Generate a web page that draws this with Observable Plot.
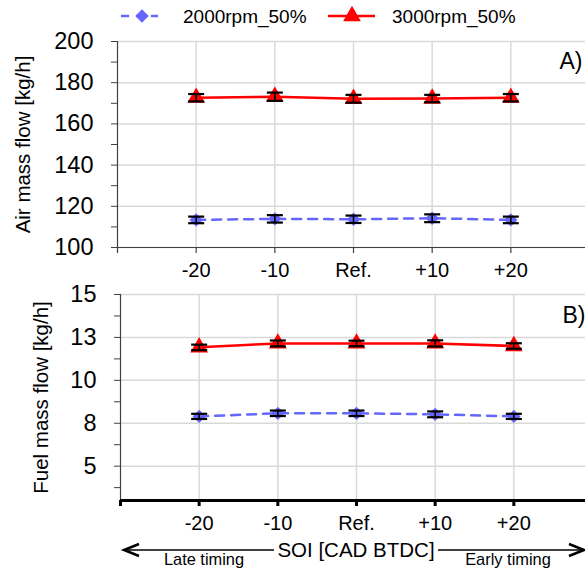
<!DOCTYPE html>
<html><head><meta charset="utf-8">
<script src="https://cdn.jsdelivr.net/npm/d3@7"></script>
<script src="https://cdn.jsdelivr.net/npm/@observablehq/plot@0.6"></script>
<style>
body{margin:0;background:#fff;}
#root{position:relative;width:585px;height:571px;overflow:hidden;font-family:"Liberation Sans",Arial,sans-serif;background:#fff;}
#root > *{position:absolute;left:0;}
</style></head><body><div id="root"></div>
<script>
// ---- data ----
const soiLabels = ["-20", "-10", "Ref.", "+10", "+20"];
const soiPos = [-20, -10, 0, 10, 20];
const seriesNames = ["2000rpm_50%", "3000rpm_50%"];
const air2000 = [113.4, 113.9, 113.7, 114.2, 113.4];
const air3000 = [172.7, 173.2, 172.2, 172.3, 172.7];
const air2000Err = [1.6, 1.8, 1.8, 1.9, 1.6];
const air3000Err = [1.8, 2.0, 1.9, 1.8, 1.8];
const fuel2000 = [7.9, 8.08, 8.08, 8.02, 7.9];
const fuel3000 = [11.92, 12.15, 12.15, 12.15, 12.0];
const fuel2000Err = [0.15, 0.16, 0.16, 0.17, 0.15];
const fuel3000Err = [0.16, 0.17, 0.16, 0.18, 0.16];
const airTicks = [100, 120, 140, 160, 180, 200];
const airMinor = [110, 130, 150, 170, 190];
const fuelTicks = [5, 7.5, 10, 12.5, 15];
const fuelMinor = [3.75, 6.25, 8.75, 11.25, 13.75];
const xDomain = [-30, 30];

const BLUE = "#6666ff", RED = "#ff0000";
const FONT = '"Liberation Sans", Arial, sans-serif';
const labelOf = new Map(soiPos.map((p, i) => [p, soiLabels[i]]));
const xTickPos = [xDomain[0], ...soiPos];

const capSymbol = {draw(ctx) { ctx.moveTo(-8, 0); ctx.lineTo(8, 0); }};

function rows(vals, errs) {
  return soiPos.map((p, i) => ({soi: p, v: vals[i], lo: vals[i] - errs[i], hi: vals[i] + errs[i]}));
}

function panel(o) {
  const r2000 = rows(o.v2000, o.e2000), r3000 = rows(o.v3000, o.e3000);
  const all = r2000.concat(r3000);
  return Plot.plot({
    width: 585, height: o.height,
    marginLeft: o.left, marginRight: 0, marginTop: o.marginTop, marginBottom: o.marginBottom,
    x: {type: "linear", domain: xDomain, range: [o.left, o.right]},
    y: {domain: o.domain},
    style: {fontFamily: FONT, background: "transparent", color: "black"},
    marks: [
      Plot.gridY(o.ticks, {stroke: "#d9d9d9", strokeOpacity: 1, strokeWidth: 1.5}),
      Plot.gridX(soiPos, {stroke: "#d9d9d9", strokeOpacity: 1, strokeWidth: 1.5}),
      Plot.ruleX([xDomain[0]], {stroke: "#404040", strokeWidth: 1.2}),
      Plot.ruleY([o.domain[0]], {stroke: o.xAxisColor, strokeWidth: o.xAxisWidth}),
      Plot.line(r2000, {x: "soi", y: "v", stroke: BLUE, strokeWidth: 2.5, strokeDasharray: "9,7"}),
      Plot.line(r3000, {x: "soi", y: "v", stroke: RED, strokeWidth: 2.5}),
      Plot.dot(r2000, {x: "soi", y: "v", symbol: "diamond2", r: 6, fill: BLUE}),
      Plot.dot(r3000, {x: "soi", y: "v", symbol: "triangle", r: 6.6, fill: RED}),
      Plot.ruleX(all, {x: "soi", y1: "lo", y2: "hi", stroke: "black", strokeWidth: 1.6}),
      Plot.dot(all, {x: "soi", y: "lo", symbol: capSymbol, fill: "none", stroke: "black", strokeWidth: 2.2}),
      Plot.dot(all, {x: "soi", y: "hi", symbol: capSymbol, fill: "none", stroke: "black", strokeWidth: 2.2}),
      Plot.axisY(o.ticks, {tickSize: 6, tickPadding: 18, fontSize: 23.5, tickFormat: o.fmt, label: null, stroke: "#404040"}),
      Plot.axisY(o.minor, {tickSize: 6, text: null, label: null, stroke: "#404040"}),
      Plot.axisX(xTickPos, {tickSize: 6, tickPadding: 9, fontSize: 20, tickFormat: d => labelOf.get(d) ?? "", label: null, stroke: o.xAxisColor, strokeWidth: o.xAxisWidth}),
      Plot.text([o.label], {frameAnchor: "left", textAnchor: "middle", lineAnchor: "middle", rotate: -90, dx: o.labelDx, fontSize: 20.5, fill: "black"}),
      Plot.text([o.tag], {frameAnchor: "top-right", dx: o.tagDx, dy: o.tagDy, fontSize: 23, fill: "black"})
    ]
  });
}

const root = document.getElementById("root");

// legend
const leg = d3.create("svg").attr("width", 585).attr("height", 30).style("top", "0px")
  .attr("font-family", FONT);
leg.append("line").attr("x1", 121).attr("x2", 158).attr("y1", 16).attr("y2", 16)
  .attr("stroke", BLUE).attr("stroke-width", 2.5).attr("stroke-dasharray", "8,7");
leg.append("path").attr("d", d3.symbol(d3.symbolDiamond2, Math.PI * 6 * 6)())
  .attr("transform", "translate(142,16)").attr("fill", BLUE);
leg.append("text").attr("x", 183).attr("y", 16).attr("dy", "0.36em").attr("font-size", 19).text(seriesNames[0]);
leg.append("line").attr("x1", 328).attr("x2", 375).attr("y1", 16).attr("y2", 16)
  .attr("stroke", RED).attr("stroke-width", 2.5);
leg.append("path").attr("d", d3.symbol(d3.symbolTriangle, Math.PI * 6.6 * 6.6)())
  .attr("transform", "translate(352,16)").attr("fill", RED);
leg.append("text").attr("x", 392).attr("y", 16).attr("dy", "0.36em").attr("font-size", 19).text(seriesNames[1]);
root.appendChild(leg.node());

// top panel
const topPanel = panel({
  v2000: air2000, v3000: air3000, e2000: air2000Err, e3000: air3000Err,
  domain: [100, 200], ticks: airTicks, minor: airMinor, fmt: d => String(d),
  label: "Air mass flow [kg/h]", tag: "A)", labelDx: -94, tagDx: -3, tagDy: 11,
  height: 265, marginTop: 21, marginBottom: 38, left: 117, right: 589,
  xAxisColor: "#404040", xAxisWidth: 1.2
});
topPanel.style.top = "20px";
root.appendChild(topPanel);

// bottom panel
const botPanel = panel({
  v2000: fuel2000, v3000: fuel3000, e2000: fuel2000Err, e3000: fuel3000Err,
  domain: [3, 15], ticks: fuelTicks, minor: fuelMinor, fmt: d => String(Math.round(d)),
  label: "Fuel mass flow [kg/h]", tag: "B)", labelDx: -79, tagDx: 0, tagDy: 12,
  height: 260, marginTop: 14, marginBottom: 40, left: 120, right: 592,
  xAxisColor: "black", xAxisWidth: 3
});
botPanel.style.top = "280px";
root.appendChild(botPanel);

// bottom annotation: SOI arrow
const ann = d3.create("svg").attr("width", 585).attr("height", 35).style("top", "536px")
  .attr("font-family", FONT);
const ay = 14;
ann.append("line").attr("x1", 124).attr("x2", 274).attr("y1", ay).attr("y2", ay).attr("stroke", "black").attr("stroke-width", 1.5);
ann.append("line").attr("x1", 438).attr("x2", 583).attr("y1", ay).attr("y2", ay).attr("stroke", "black").attr("stroke-width", 1.5);
ann.append("path").attr("d", `M139,${ay-6}L124,${ay}L139,${ay+6}`).attr("fill", "none").attr("stroke", "black").attr("stroke-width", 2.5);
ann.append("path").attr("d", `M569,${ay-6}L584,${ay}L569,${ay+6}`).attr("fill", "none").attr("stroke", "black").attr("stroke-width", 2.5);
ann.append("text").attr("x", 356).attr("y", ay).attr("dy", "0.36em").attr("text-anchor", "middle").attr("font-size", 20.5).text("SOI [CAD BTDC]");
ann.append("text").attr("x", 204).attr("y", ay + 15).attr("text-anchor", "middle").attr("font-size", 16.4).text("Late timing");
ann.append("text").attr("x", 508).attr("y", ay + 15).attr("text-anchor", "middle").attr("font-size", 16.4).text("Early timing");
root.appendChild(ann.node());
</script></body></html>
